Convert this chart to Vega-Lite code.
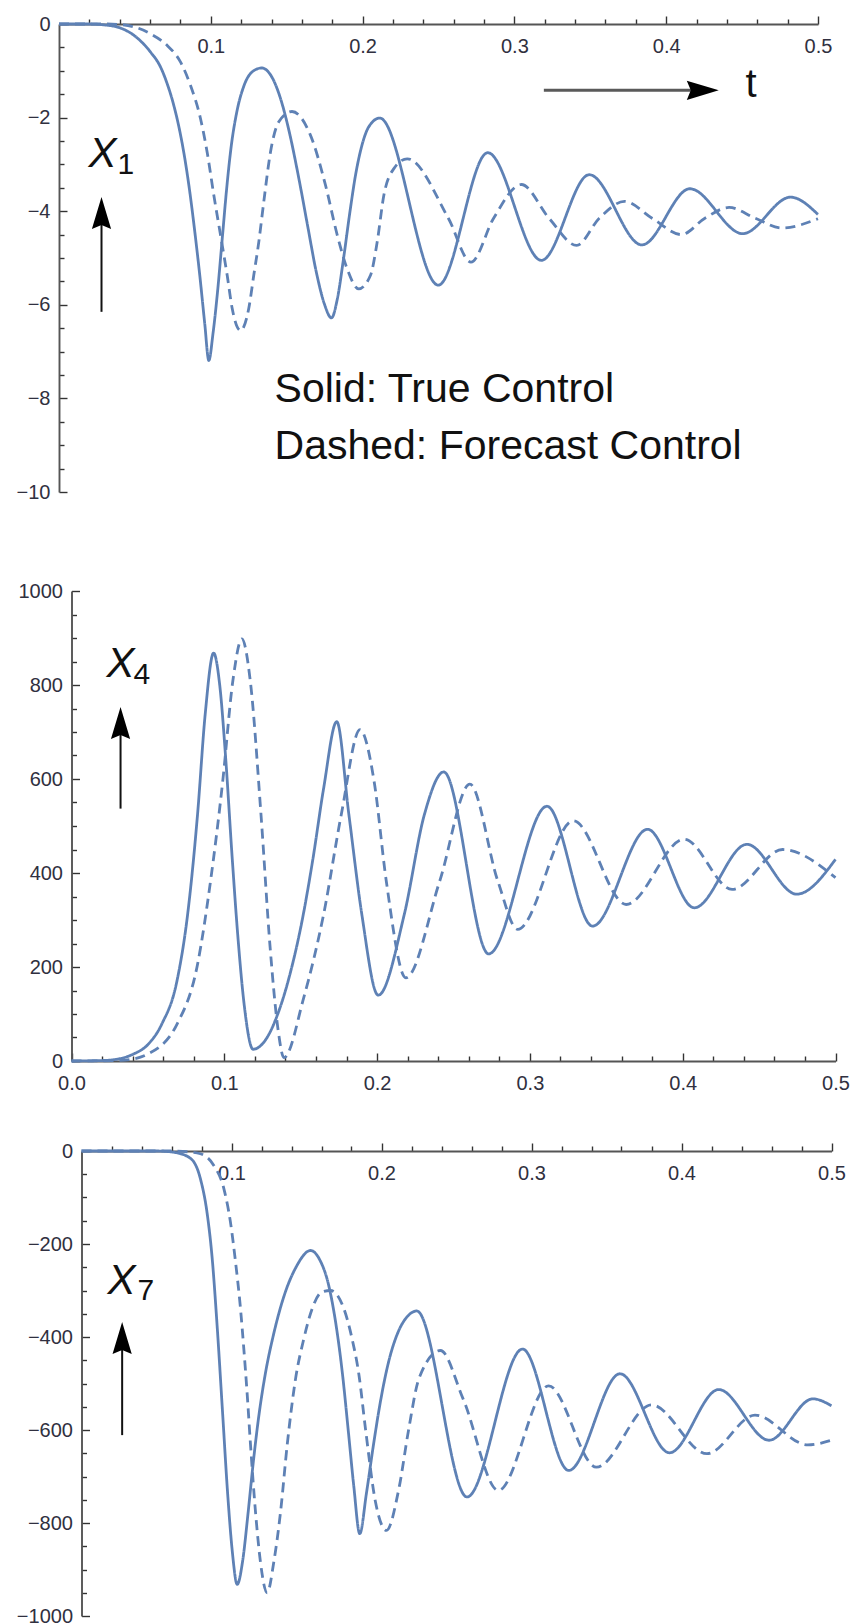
{
"$schema": "https://vega.github.io/schema/vega-lite/v6.json",
"padding": {"left": 16, "top": 14, "right": 5, "bottom": 5},
"background": "white",
"config": {
  "view": {"stroke": null},
  "font": "Liberation Sans",
  "axis": {"domainColor": "#555555", "domainWidth": 1.9, "tickColor": "#333333", "tickWidth": 1.4, "labelFont": "Liberation Sans", "labelFontSize": 20, "labelColor": "#303040", "grid": false, "labelFlush": false, "labelOverlap": false}
},
"datasets": {
  "curves": [
    {"panel":"X1","series":"True","t":0,"v":0},{"panel":"X1","series":"True","t":0.02,"v":0},{"panel":"X1","series":"True","t":0.03,"v":-0.02},{"panel":"X1","series":"True","t":0.04,"v":-0.08},{"panel":"X1","series":"True","t":0.0493,"v":-0.24},{"panel":"X1","series":"True","t":0.0603,"v":-0.6},{"panel":"X1","series":"True","t":0.0669,"v":-0.92},{"panel":"X1","series":"True","t":0.0712,"v":-1.27},{"panel":"X1","series":"True","t":0.0753,"v":-1.7},{"panel":"X1","series":"True","t":0.079,"v":-2.2},{"panel":"X1","series":"True","t":0.0825,"v":-2.8},{"panel":"X1","series":"True","t":0.086,"v":-3.55},{"panel":"X1","series":"True","t":0.0895,"v":-4.45},{"panel":"X1","series":"True","t":0.093,"v":-5.45},{"panel":"X1","series":"True","t":0.096,"v":-6.4},{"panel":"X1","series":"True","t":0.0987,"v":-7.19},{"panel":"X1","series":"True","t":0.1015,"v":-6.6},{"panel":"X1","series":"True","t":0.1045,"v":-5.7},{"panel":"X1","series":"True","t":0.1075,"v":-4.6},{"panel":"X1","series":"True","t":0.1105,"v":-3.5},{"panel":"X1","series":"True","t":0.1135,"v":-2.6},{"panel":"X1","series":"True","t":0.117,"v":-1.9},{"panel":"X1","series":"True","t":0.1215,"v":-1.35},{"panel":"X1","series":"True","t":0.127,"v":-1.03},{"panel":"X1","series":"True","t":0.1335,"v":-0.94},{"panel":"X1","series":"True","t":0.14,"v":-1.12},{"panel":"X1","series":"True","t":0.146,"v":-1.6},{"panel":"X1","series":"True","t":0.152,"v":-2.35},{"panel":"X1","series":"True","t":0.158,"v":-3.3},{"panel":"X1","series":"True","t":0.164,"v":-4.35},{"panel":"X1","series":"True","t":0.1695,"v":-5.3},{"panel":"X1","series":"True","t":0.1748,"v":-5.98},{"panel":"X1","series":"True","t":0.1795,"v":-6.28},{"panel":"X1","series":"True","t":0.1835,"v":-5.85},{"panel":"X1","series":"True","t":0.1875,"v":-5.0},{"panel":"X1","series":"True","t":0.1915,"v":-4.05},{"panel":"X1","series":"True","t":0.1955,"v":-3.2},{"panel":"X1","series":"True","t":0.1995,"v":-2.6},{"panel":"X1","series":"True","t":0.204,"v":-2.2},{"panel":"X1","series":"True","t":0.2113,"v":-2.01},{"panel":"X1","series":"True","t":0.2499,"v":-5.58},{"panel":"X1","series":"True","t":0.2824,"v":-2.75},{"panel":"X1","series":"True","t":0.3178,"v":-5.05},{"panel":"X1","series":"True","t":0.3493,"v":-3.22},{"panel":"X1","series":"True","t":0.384,"v":-4.72},{"panel":"X1","series":"True","t":0.4156,"v":-3.52},{"panel":"X1","series":"True","t":0.4504,"v":-4.48},{"panel":"X1","series":"True","t":0.4819,"v":-3.7},{"panel":"X1","series":"True","t":0.5,"v":-4.07},

    {"panel":"X1","series":"Forecast","t":0,"v":0},{"panel":"X1","series":"Forecast","t":0.03,"v":0},{"panel":"X1","series":"Forecast","t":0.04,"v":-0.01},{"panel":"X1","series":"Forecast","t":0.0493,"v":-0.06},{"panel":"X1","series":"Forecast","t":0.0603,"v":-0.21},{"panel":"X1","series":"Forecast","t":0.0713,"v":-0.46},{"panel":"X1","series":"Forecast","t":0.08,"v":-0.81},{"panel":"X1","series":"Forecast","t":0.0866,"v":-1.31},{"panel":"X1","series":"Forecast","t":0.0932,"v":-2.02},{"panel":"X1","series":"Forecast","t":0.0976,"v":-2.74},{"panel":"X1","series":"Forecast","t":0.102,"v":-3.66},{"panel":"X1","series":"Forecast","t":0.1064,"v":-4.51},{"panel":"X1","series":"Forecast","t":0.1108,"v":-5.37},{"panel":"X1","series":"Forecast","t":0.1141,"v":-6.08},{"panel":"X1","series":"Forecast","t":0.1196,"v":-6.55},{"panel":"X1","series":"Forecast","t":0.125,"v":-6.08},{"panel":"X1","series":"Forecast","t":0.1283,"v":-5.37},{"panel":"X1","series":"Forecast","t":0.1316,"v":-4.66},{"panel":"X1","series":"Forecast","t":0.1349,"v":-3.8},{"panel":"X1","series":"Forecast","t":0.1393,"v":-2.74},{"panel":"X1","series":"Forecast","t":0.1448,"v":-2.09},{"panel":"X1","series":"Forecast","t":0.1535,"v":-1.87},{"panel":"X1","series":"Forecast","t":0.1657,"v":-2.38},{"panel":"X1","series":"Forecast","t":0.1756,"v":-3.45},{"panel":"X1","series":"Forecast","t":0.1833,"v":-4.51},{"panel":"X1","series":"Forecast","t":0.1898,"v":-5.23},{"panel":"X1","series":"Forecast","t":0.1975,"v":-5.66},{"panel":"X1","series":"Forecast","t":0.2052,"v":-5.37},{"panel":"X1","series":"Forecast","t":0.2096,"v":-4.66},{"panel":"X1","series":"Forecast","t":0.214,"v":-3.66},{"panel":"X1","series":"Forecast","t":0.2206,"v":-3.09},{"panel":"X1","series":"Forecast","t":0.2294,"v":-2.88},{"panel":"X1","series":"Forecast","t":0.2565,"v":-4.15},{"panel":"X1","series":"Forecast","t":0.2714,"v":-5.09},{"panel":"X1","series":"Forecast","t":0.2863,"v":-4.15},{"panel":"X1","series":"Forecast","t":0.3046,"v":-3.43},{"panel":"X1","series":"Forecast","t":0.3228,"v":-4.15},{"panel":"X1","series":"Forecast","t":0.341,"v":-4.73},{"panel":"X1","series":"Forecast","t":0.3559,"v":-4.15},{"panel":"X1","series":"Forecast","t":0.3725,"v":-3.79},{"panel":"X1","series":"Forecast","t":0.3907,"v":-4.15},{"panel":"X1","series":"Forecast","t":0.41,"v":-4.5},{"panel":"X1","series":"Forecast","t":0.4255,"v":-4.15},{"panel":"X1","series":"Forecast","t":0.4414,"v":-3.92},{"panel":"X1","series":"Forecast","t":0.4587,"v":-4.15},{"panel":"X1","series":"Forecast","t":0.4762,"v":-4.36},{"panel":"X1","series":"Forecast","t":0.5,"v":-4.16},

    {"panel":"X4","series":"True","t":0,"v":0},{"panel":"X4","series":"True","t":0.02,"v":1},{"panel":"X4","series":"True","t":0.03,"v":4},{"panel":"X4","series":"True","t":0.04,"v":14},{"panel":"X4","series":"True","t":0.05,"v":35},{"panel":"X4","series":"True","t":0.059,"v":78},{"panel":"X4","series":"True","t":0.069,"v":170},{"panel":"X4","series":"True","t":0.076,"v":312},{"panel":"X4","series":"True","t":0.0825,"v":525},{"panel":"X4","series":"True","t":0.0875,"v":738},{"panel":"X4","series":"True","t":0.093,"v":868},{"panel":"X4","series":"True","t":0.097,"v":800},{"panel":"X4","series":"True","t":0.101,"v":640},{"panel":"X4","series":"True","t":0.105,"v":440},{"panel":"X4","series":"True","t":0.109,"v":260},{"panel":"X4","series":"True","t":0.113,"v":120},{"panel":"X4","series":"True","t":0.1188,"v":25},{"panel":"X4","series":"True","t":0.127,"v":45},{"panel":"X4","series":"True","t":0.135,"v":100},{"panel":"X4","series":"True","t":0.143,"v":185},{"panel":"X4","series":"True","t":0.151,"v":300},{"panel":"X4","series":"True","t":0.158,"v":430},{"panel":"X4","series":"True","t":0.165,"v":580},{"panel":"X4","series":"True","t":0.1736,"v":722},{"panel":"X4","series":"True","t":0.1815,"v":525},{"panel":"X4","series":"True","t":0.19,"v":312},{"panel":"X4","series":"True","t":0.2007,"v":140},{"panel":"X4","series":"True","t":0.2178,"v":312},{"panel":"X4","series":"True","t":0.231,"v":525},{"panel":"X4","series":"True","t":0.2436,"v":615},{"panel":"X4","series":"True","t":0.273,"v":228},{"panel":"X4","series":"True","t":0.3112,"v":542},{"panel":"X4","series":"True","t":0.341,"v":287},{"panel":"X4","series":"True","t":0.377,"v":493},{"panel":"X4","series":"True","t":0.4076,"v":326},{"panel":"X4","series":"True","t":0.442,"v":461},{"panel":"X4","series":"True","t":0.4746,"v":355},{"panel":"X4","series":"True","t":0.5,"v":429},

    {"panel":"X4","series":"Forecast","t":0,"v":0},{"panel":"X4","series":"Forecast","t":0.03,"v":1},{"panel":"X4","series":"Forecast","t":0.04,"v":4},{"panel":"X4","series":"Forecast","t":0.0495,"v":14},{"panel":"X4","series":"Forecast","t":0.069,"v":78},{"panel":"X4","series":"Forecast","t":0.0825,"v":206},{"panel":"X4","series":"Forecast","t":0.091,"v":383},{"panel":"X4","series":"Forecast","t":0.099,"v":596},{"panel":"X4","series":"Forecast","t":0.1056,"v":809},{"panel":"X4","series":"Forecast","t":0.1115,"v":898},{"panel":"X4","series":"Forecast","t":0.117,"v":809},{"panel":"X4","series":"Forecast","t":0.124,"v":525},{"panel":"X4","series":"Forecast","t":0.13,"v":241},{"panel":"X4","series":"Forecast","t":0.1353,"v":64},{"panel":"X4","series":"Forecast","t":0.139,"v":7},{"panel":"X4","series":"Forecast","t":0.152,"v":135},{"panel":"X4","series":"Forecast","t":0.165,"v":312},{"panel":"X4","series":"Forecast","t":0.1766,"v":525},{"panel":"X4","series":"Forecast","t":0.1888,"v":705},{"panel":"X4","series":"Forecast","t":0.198,"v":596},{"panel":"X4","series":"Forecast","t":0.206,"v":383},{"panel":"X4","series":"Forecast","t":0.2188,"v":177},{"panel":"X4","series":"Forecast","t":0.241,"v":383},{"panel":"X4","series":"Forecast","t":0.2607,"v":589},{"panel":"X4","series":"Forecast","t":0.279,"v":383},{"panel":"X4","series":"Forecast","t":0.292,"v":280},{"panel":"X4","series":"Forecast","t":0.3284,"v":511},{"panel":"X4","series":"Forecast","t":0.363,"v":333},{"panel":"X4","series":"Forecast","t":0.401,"v":472},{"panel":"X4","series":"Forecast","t":0.4323,"v":365},{"panel":"X4","series":"Forecast","t":0.4653,"v":450},{"panel":"X4","series":"Forecast","t":0.5,"v":390},

    {"panel":"X7","series":"True","t":0,"v":0},{"panel":"X7","series":"True","t":0.05,"v":0},{"panel":"X7","series":"True","t":0.062,"v":-3},{"panel":"X7","series":"True","t":0.0727,"v":-16},{"panel":"X7","series":"True","t":0.0793,"v":-60},{"panel":"X7","series":"True","t":0.0838,"v":-135},{"panel":"X7","series":"True","t":0.0871,"v":-230},{"panel":"X7","series":"True","t":0.0905,"v":-380},{"panel":"X7","series":"True","t":0.094,"v":-560},{"panel":"X7","series":"True","t":0.0975,"v":-740},{"panel":"X7","series":"True","t":0.1005,"v":-860},{"panel":"X7","series":"True","t":0.1038,"v":-932},{"panel":"X7","series":"True","t":0.1075,"v":-880},{"panel":"X7","series":"True","t":0.111,"v":-780},{"panel":"X7","series":"True","t":0.1145,"v":-670},{"panel":"X7","series":"True","t":0.118,"v":-575},{"panel":"X7","series":"True","t":0.1225,"v":-480},{"panel":"X7","series":"True","t":0.128,"v":-395},{"panel":"X7","series":"True","t":0.135,"v":-312},{"panel":"X7","series":"True","t":0.143,"v":-250},{"panel":"X7","series":"True","t":0.1527,"v":-214},{"panel":"X7","series":"True","t":0.159,"v":-235},{"panel":"X7","series":"True","t":0.1645,"v":-285},{"panel":"X7","series":"True","t":0.1695,"v":-370},{"panel":"X7","series":"True","t":0.174,"v":-480},{"panel":"X7","series":"True","t":0.1778,"v":-600},{"panel":"X7","series":"True","t":0.1815,"v":-720},{"panel":"X7","series":"True","t":0.1855,"v":-823},{"panel":"X7","series":"True","t":0.19,"v":-735},{"panel":"X7","series":"True","t":0.1945,"v":-635},{"panel":"X7","series":"True","t":0.1995,"v":-535},{"panel":"X7","series":"True","t":0.205,"v":-450},{"panel":"X7","series":"True","t":0.211,"v":-390},{"panel":"X7","series":"True","t":0.2175,"v":-355},{"panel":"X7","series":"True","t":0.2235,"v":-344},{"panel":"X7","series":"True","t":0.257,"v":-744},{"panel":"X7","series":"True","t":0.294,"v":-426},{"panel":"X7","series":"True","t":0.3248,"v":-687},{"panel":"X7","series":"True","t":0.359,"v":-479},{"panel":"X7","series":"True","t":0.392,"v":-649},{"panel":"X7","series":"True","t":0.4248,"v":-513},{"panel":"X7","series":"True","t":0.4584,"v":-622},{"panel":"X7","series":"True","t":0.4876,"v":-533},{"panel":"X7","series":"True","t":0.5,"v":-548},

    {"panel":"X7","series":"Forecast","t":0,"v":0},{"panel":"X7","series":"Forecast","t":0.06,"v":0},{"panel":"X7","series":"Forecast","t":0.072,"v":-2},{"panel":"X7","series":"Forecast","t":0.0793,"v":-6},{"panel":"X7","series":"Forecast","t":0.0882,"v":-31},{"panel":"X7","series":"Forecast","t":0.0949,"v":-81},{"panel":"X7","series":"Forecast","t":0.0993,"v":-153},{"panel":"X7","series":"Forecast","t":0.1027,"v":-239},{"panel":"X7","series":"Forecast","t":0.106,"v":-339},{"panel":"X7","series":"Forecast","t":0.1082,"v":-425},{"panel":"X7","series":"Forecast","t":0.1104,"v":-520},{"panel":"X7","series":"Forecast","t":0.1127,"v":-633},{"panel":"X7","series":"Forecast","t":0.116,"v":-776},{"panel":"X7","series":"Forecast","t":0.1193,"v":-884},{"panel":"X7","series":"Forecast","t":0.1238,"v":-950},{"panel":"X7","series":"Forecast","t":0.1282,"v":-884},{"panel":"X7","series":"Forecast","t":0.1327,"v":-776},{"panel":"X7","series":"Forecast","t":0.1371,"v":-633},{"panel":"X7","series":"Forecast","t":0.1427,"v":-490},{"panel":"X7","series":"Forecast","t":0.1482,"v":-404},{"panel":"X7","series":"Forecast","t":0.1538,"v":-339},{"panel":"X7","series":"Forecast","t":0.1604,"v":-303},{"panel":"X7","series":"Forecast","t":0.166,"v":-300},{"panel":"X7","series":"Forecast","t":0.1749,"v":-339},{"panel":"X7","series":"Forecast","t":0.1804,"v":-404},{"panel":"X7","series":"Forecast","t":0.1849,"v":-480},{"panel":"X7","series":"Forecast","t":0.1893,"v":-597},{"panel":"X7","series":"Forecast","t":0.196,"v":-755},{"panel":"X7","series":"Forecast","t":0.2033,"v":-816},{"panel":"X7","series":"Forecast","t":0.2116,"v":-726},{"panel":"X7","series":"Forecast","t":0.2182,"v":-597},{"panel":"X7","series":"Forecast","t":0.2249,"v":-490},{"panel":"X7","series":"Forecast","t":0.2393,"v":-429},{"panel":"X7","series":"Forecast","t":0.2544,"v":-533},{"panel":"X7","series":"Forecast","t":0.2779,"v":-730},{"panel":"X7","series":"Forecast","t":0.3114,"v":-505},{"panel":"X7","series":"Forecast","t":0.3433,"v":-680},{"panel":"X7","series":"Forecast","t":0.38,"v":-546},{"panel":"X7","series":"Forecast","t":0.417,"v":-651},{"panel":"X7","series":"Forecast","t":0.449,"v":-568},{"panel":"X7","series":"Forecast","t":0.4842,"v":-632},{"panel":"X7","series":"Forecast","t":0.5,"v":-622}
  ],
  "labels": [
    {"panel":"X1","kind":"var","t":0.0194,"v":-3.06,"text":"X"},
    {"panel":"X1","kind":"sub","t":0.0385,"v":-3.2,"text":"1"},
    {"panel":"X1","kind":"caption","t":0.142,"v":-8.08,"text":"Solid: True Control"},
    {"panel":"X1","kind":"caption","t":0.142,"v":-9.29,"text":"Dashed: Forecast Control"},
    {"panel":"X1","kind":"axisname","t":0.4522,"v":-1.56,"text":"t"},
    {"panel":"X4","kind":"var","t":0.0229,"v":817,"text":"X"},
    {"panel":"X4","kind":"sub","t":0.0406,"v":802,"text":"4"},
    {"panel":"X7","kind":"var","t":0.0173,"v":-307.5,"text":"X"},
    {"panel":"X7","kind":"sub","t":0.0373,"v":-320,"text":"7"}
  ],
  "vshafts": [
    {"panel":"X1","t":0.028,"v":-6.15,"v2":-4.2},
    {"panel":"X4","t":0.0321,"v":537,"v2":700},
    {"panel":"X7","t":0.0271,"v":-611,"v2":-420}
  ],
  "hshafts": [
    {"panel":"X1","t":0.3194,"t2":0.42,"v":-1.417}
  ],
  "heads": [
    {"panel":"X1","dir":"up","t":0.028,"v":-4.04},
    {"panel":"X4","dir":"up","t":0.0321,"v":719},
    {"panel":"X7","dir":"up","t":0.0271,"v":-402},
    {"panel":"X1","dir":"right","t":0.4241,"v":-1.417}
  ]
},
"vconcat": [
  {
    "width": 759, "height": 468,
    "encoding": {
      "x": {"field": "t", "type": "quantitative", "scale": {"domain": [0, 0.5], "nice": false, "zero": false},
        "axis": {"orient": "top", "title": null, "values": [0.02,0.04,0.06,0.08,0.1,0.12,0.14,0.16,0.18,0.2,0.22,0.24,0.26,0.28,0.3,0.32,0.34,0.36,0.38,0.4,0.42,0.44,0.46,0.48,0.5],
          "labelExpr": "abs(datum.value*10-round(datum.value*10))<0.001 ? format(datum.value,'.1f') : ''",
          "tickSize": {"condition": {"test": "abs(datum.value*10-round(datum.value*10))<0.001", "value": 8}, "value": 5},
          "labelPadding": -20, "labelBaseline": "top"}},
      "y": {"field": "v", "type": "quantitative", "scale": {"domain": [-10, 0], "nice": false, "zero": false},
        "axis": {"orient": "left", "title": null, "values": [-10,-9.5,-9,-8.5,-8,-7.5,-7,-6.5,-6,-5.5,-5,-4.5,-4,-3.5,-3,-2.5,-2,-1.5,-1,-0.5,0],
          "labelExpr": "abs(datum.value % 2)<0.001 ? format(datum.value,'d') : ''",
          "tickSize": {"condition": {"test": "abs(datum.value % 2)<0.001", "value": -8}, "value": -5},
          "labelPadding": 17}}
    },
    "layer": [
      {"data": {"name": "curves"}, "transform": [{"filter": "datum.panel === 'X1'"}],
       "mark": {"type": "line", "interpolate": "monotone", "strokeWidth": 2.8, "color": "#5E81B5"},
       "encoding": {"strokeDash": {"field": "series", "type": "nominal", "scale": {"domain": ["True", "Forecast"], "range": [[1, 0], [10, 6]]}, "legend": null}}},
      {"data": {"name": "vshafts"}, "transform": [{"filter": "datum.panel === 'X1'"}],
       "mark": {"type": "rule", "color": "#111111", "strokeWidth": 2}, "encoding": {"y2": {"field": "v2"}}},
      {"data": {"name": "hshafts"}, "transform": [{"filter": "datum.panel === 'X1'"}],
       "mark": {"type": "rule", "color": "#5a5a5a", "strokeWidth": 3}, "encoding": {"x2": {"field": "t2"}}},
      {"data": {"name": "heads"}, "transform": [{"filter": "datum.panel === 'X1' && datum.dir === 'up'"}],
       "mark": {"type": "point", "shape": "M0,-1L0.6,1L0,0.75L-0.6,1Z", "size": 1024, "filled": true, "color": "#000000", "opacity": 1}},
      {"data": {"name": "heads"}, "transform": [{"filter": "datum.panel === 'X1' && datum.dir === 'right'"}],
       "mark": {"type": "point", "shape": "M1,0L-1,0.6L-0.75,0L-1,-0.6Z", "size": 1024, "filled": true, "color": "#000000", "opacity": 1}},
      {"data": {"name": "labels"}, "transform": [{"filter": "datum.panel === 'X1' && datum.kind === 'var'"}],
       "mark": {"type": "text", "align": "left", "baseline": "alphabetic", "fontSize": 42, "fontStyle": "italic", "font": "Liberation Sans", "color": "#111111"}, "encoding": {"text": {"field": "text"}}},
      {"data": {"name": "labels"}, "transform": [{"filter": "datum.panel === 'X1' && datum.kind === 'sub'"}],
       "mark": {"type": "text", "align": "left", "baseline": "alphabetic", "fontSize": 30, "font": "Liberation Sans", "color": "#111111"}, "encoding": {"text": {"field": "text"}}},
      {"data": {"name": "labels"}, "transform": [{"filter": "datum.panel === 'X1' && datum.kind === 'caption'"}],
       "mark": {"type": "text", "align": "left", "baseline": "alphabetic", "fontSize": 41, "font": "Liberation Sans", "color": "#111111"}, "encoding": {"text": {"field": "text"}}},
      {"data": {"name": "labels"}, "transform": [{"filter": "datum.panel === 'X1' && datum.kind === 'axisname'"}],
       "mark": {"type": "text", "align": "left", "baseline": "alphabetic", "fontSize": 40, "font": "Liberation Sans", "color": "#111111"}, "encoding": {"text": {"field": "text"}}}
    ]
  },
  {
    "width": 777, "height": 479,
    "encoding": {
      "x": {"field": "t", "type": "quantitative", "scale": {"domain": [0, 0.5], "nice": false, "zero": false, "range": [12.5, 776.5]},
        "axis": {"orient": "bottom", "title": null, "values": [0,0.02,0.04,0.06,0.08,0.1,0.12,0.14,0.16,0.18,0.2,0.22,0.24,0.26,0.28,0.3,0.32,0.34,0.36,0.38,0.4,0.42,0.44,0.46,0.48,0.5],
          "labelExpr": "abs(datum.value*10-round(datum.value*10))<0.001 ? format(datum.value,'.1f') : ''",
          "tickSize": {"condition": {"test": "abs(datum.value*10-round(datum.value*10))<0.001", "value": -8}, "value": -5},
          "labelPadding": 20, "labelBaseline": "top"}},
      "y": {"field": "v", "type": "quantitative", "scale": {"domain": [0, 1000], "nice": false, "zero": false, "range": [479, 9]},
        "axis": {"orient": "left", "title": null, "offset": -12.5, "values": [0,50,100,150,200,250,300,350,400,450,500,550,600,650,700,750,800,850,900,950,1000],
          "labelExpr": "datum.value % 200 === 0 ? format(datum.value,'d') : ''",
          "tickSize": {"condition": {"test": "datum.value % 200 === 0", "value": -8}, "value": -5},
          "labelPadding": 17}}
    },
    "layer": [
      {"data": {"name": "curves"}, "transform": [{"filter": "datum.panel === 'X4'"}],
       "mark": {"type": "line", "interpolate": "monotone", "strokeWidth": 2.8, "color": "#5E81B5"},
       "encoding": {"strokeDash": {"field": "series", "type": "nominal", "scale": {"domain": ["True", "Forecast"], "range": [[1, 0], [10, 6]]}, "legend": null}}},
      {"data": {"name": "vshafts"}, "transform": [{"filter": "datum.panel === 'X4'"}],
       "mark": {"type": "rule", "color": "#111111", "strokeWidth": 2}, "encoding": {"y2": {"field": "v2"}}},
      {"data": {"name": "heads"}, "transform": [{"filter": "datum.panel === 'X4' && datum.dir === 'up'"}],
       "mark": {"type": "point", "shape": "M0,-1L0.6,1L0,0.75L-0.6,1Z", "size": 1024, "filled": true, "color": "#000000", "opacity": 1}},
      {"data": {"name": "labels"}, "transform": [{"filter": "datum.panel === 'X4' && datum.kind === 'var'"}],
       "mark": {"type": "text", "align": "left", "baseline": "alphabetic", "fontSize": 42, "fontStyle": "italic", "font": "Liberation Sans", "color": "#111111"}, "encoding": {"text": {"field": "text"}}},
      {"data": {"name": "labels"}, "transform": [{"filter": "datum.panel === 'X4' && datum.kind === 'sub'"}],
       "mark": {"type": "text", "align": "left", "baseline": "alphabetic", "fontSize": 30, "font": "Liberation Sans", "color": "#111111"}, "encoding": {"text": {"field": "text"}}}
    ]
  },
  {
    "width": 773, "height": 465,
    "encoding": {
      "x": {"field": "t", "type": "quantitative", "scale": {"domain": [0, 0.5], "nice": false, "zero": false, "range": [22.5, 772.5]},
        "axis": {"orient": "top", "title": null, "values": [0.02,0.04,0.06,0.08,0.1,0.12,0.14,0.16,0.18,0.2,0.22,0.24,0.26,0.28,0.3,0.32,0.34,0.36,0.38,0.4,0.42,0.44,0.46,0.48,0.5],
          "labelExpr": "abs(datum.value*10-round(datum.value*10))<0.001 ? format(datum.value,'.1f') : ''",
          "tickSize": {"condition": {"test": "abs(datum.value*10-round(datum.value*10))<0.001", "value": 8}, "value": 5},
          "labelPadding": -20, "labelBaseline": "top"}},
      "y": {"field": "v", "type": "quantitative", "scale": {"domain": [-1000, 0], "nice": false, "zero": false},
        "axis": {"orient": "left", "title": null, "offset": -22.5, "values": [-1000,-950,-900,-850,-800,-750,-700,-650,-600,-550,-500,-450,-400,-350,-300,-250,-200,-150,-100,-50,0],
          "labelExpr": "datum.value % 200 === 0 ? format(datum.value,'d') : ''",
          "tickSize": {"condition": {"test": "datum.value % 200 === 0", "value": -8}, "value": -5},
          "labelPadding": 17}}
    },
    "layer": [
      {"data": {"name": "curves"}, "transform": [{"filter": "datum.panel === 'X7'"}],
       "mark": {"type": "line", "interpolate": "monotone", "strokeWidth": 2.8, "color": "#5E81B5"},
       "encoding": {"strokeDash": {"field": "series", "type": "nominal", "scale": {"domain": ["True", "Forecast"], "range": [[1, 0], [10, 6]]}, "legend": null}}},
      {"data": {"name": "vshafts"}, "transform": [{"filter": "datum.panel === 'X7'"}],
       "mark": {"type": "rule", "color": "#111111", "strokeWidth": 2}, "encoding": {"y2": {"field": "v2"}}},
      {"data": {"name": "heads"}, "transform": [{"filter": "datum.panel === 'X7' && datum.dir === 'up'"}],
       "mark": {"type": "point", "shape": "M0,-1L0.6,1L0,0.75L-0.6,1Z", "size": 1024, "filled": true, "color": "#000000", "opacity": 1}},
      {"data": {"name": "labels"}, "transform": [{"filter": "datum.panel === 'X7' && datum.kind === 'var'"}],
       "mark": {"type": "text", "align": "left", "baseline": "alphabetic", "fontSize": 42, "fontStyle": "italic", "font": "Liberation Sans", "color": "#111111"}, "encoding": {"text": {"field": "text"}}},
      {"data": {"name": "labels"}, "transform": [{"filter": "datum.panel === 'X7' && datum.kind === 'sub'"}],
       "mark": {"type": "text", "align": "left", "baseline": "alphabetic", "fontSize": 30, "font": "Liberation Sans", "color": "#111111"}, "encoding": {"text": {"field": "text"}}}
    ]
  }
],
"spacing": 90,
"bounds": "flush"
}
